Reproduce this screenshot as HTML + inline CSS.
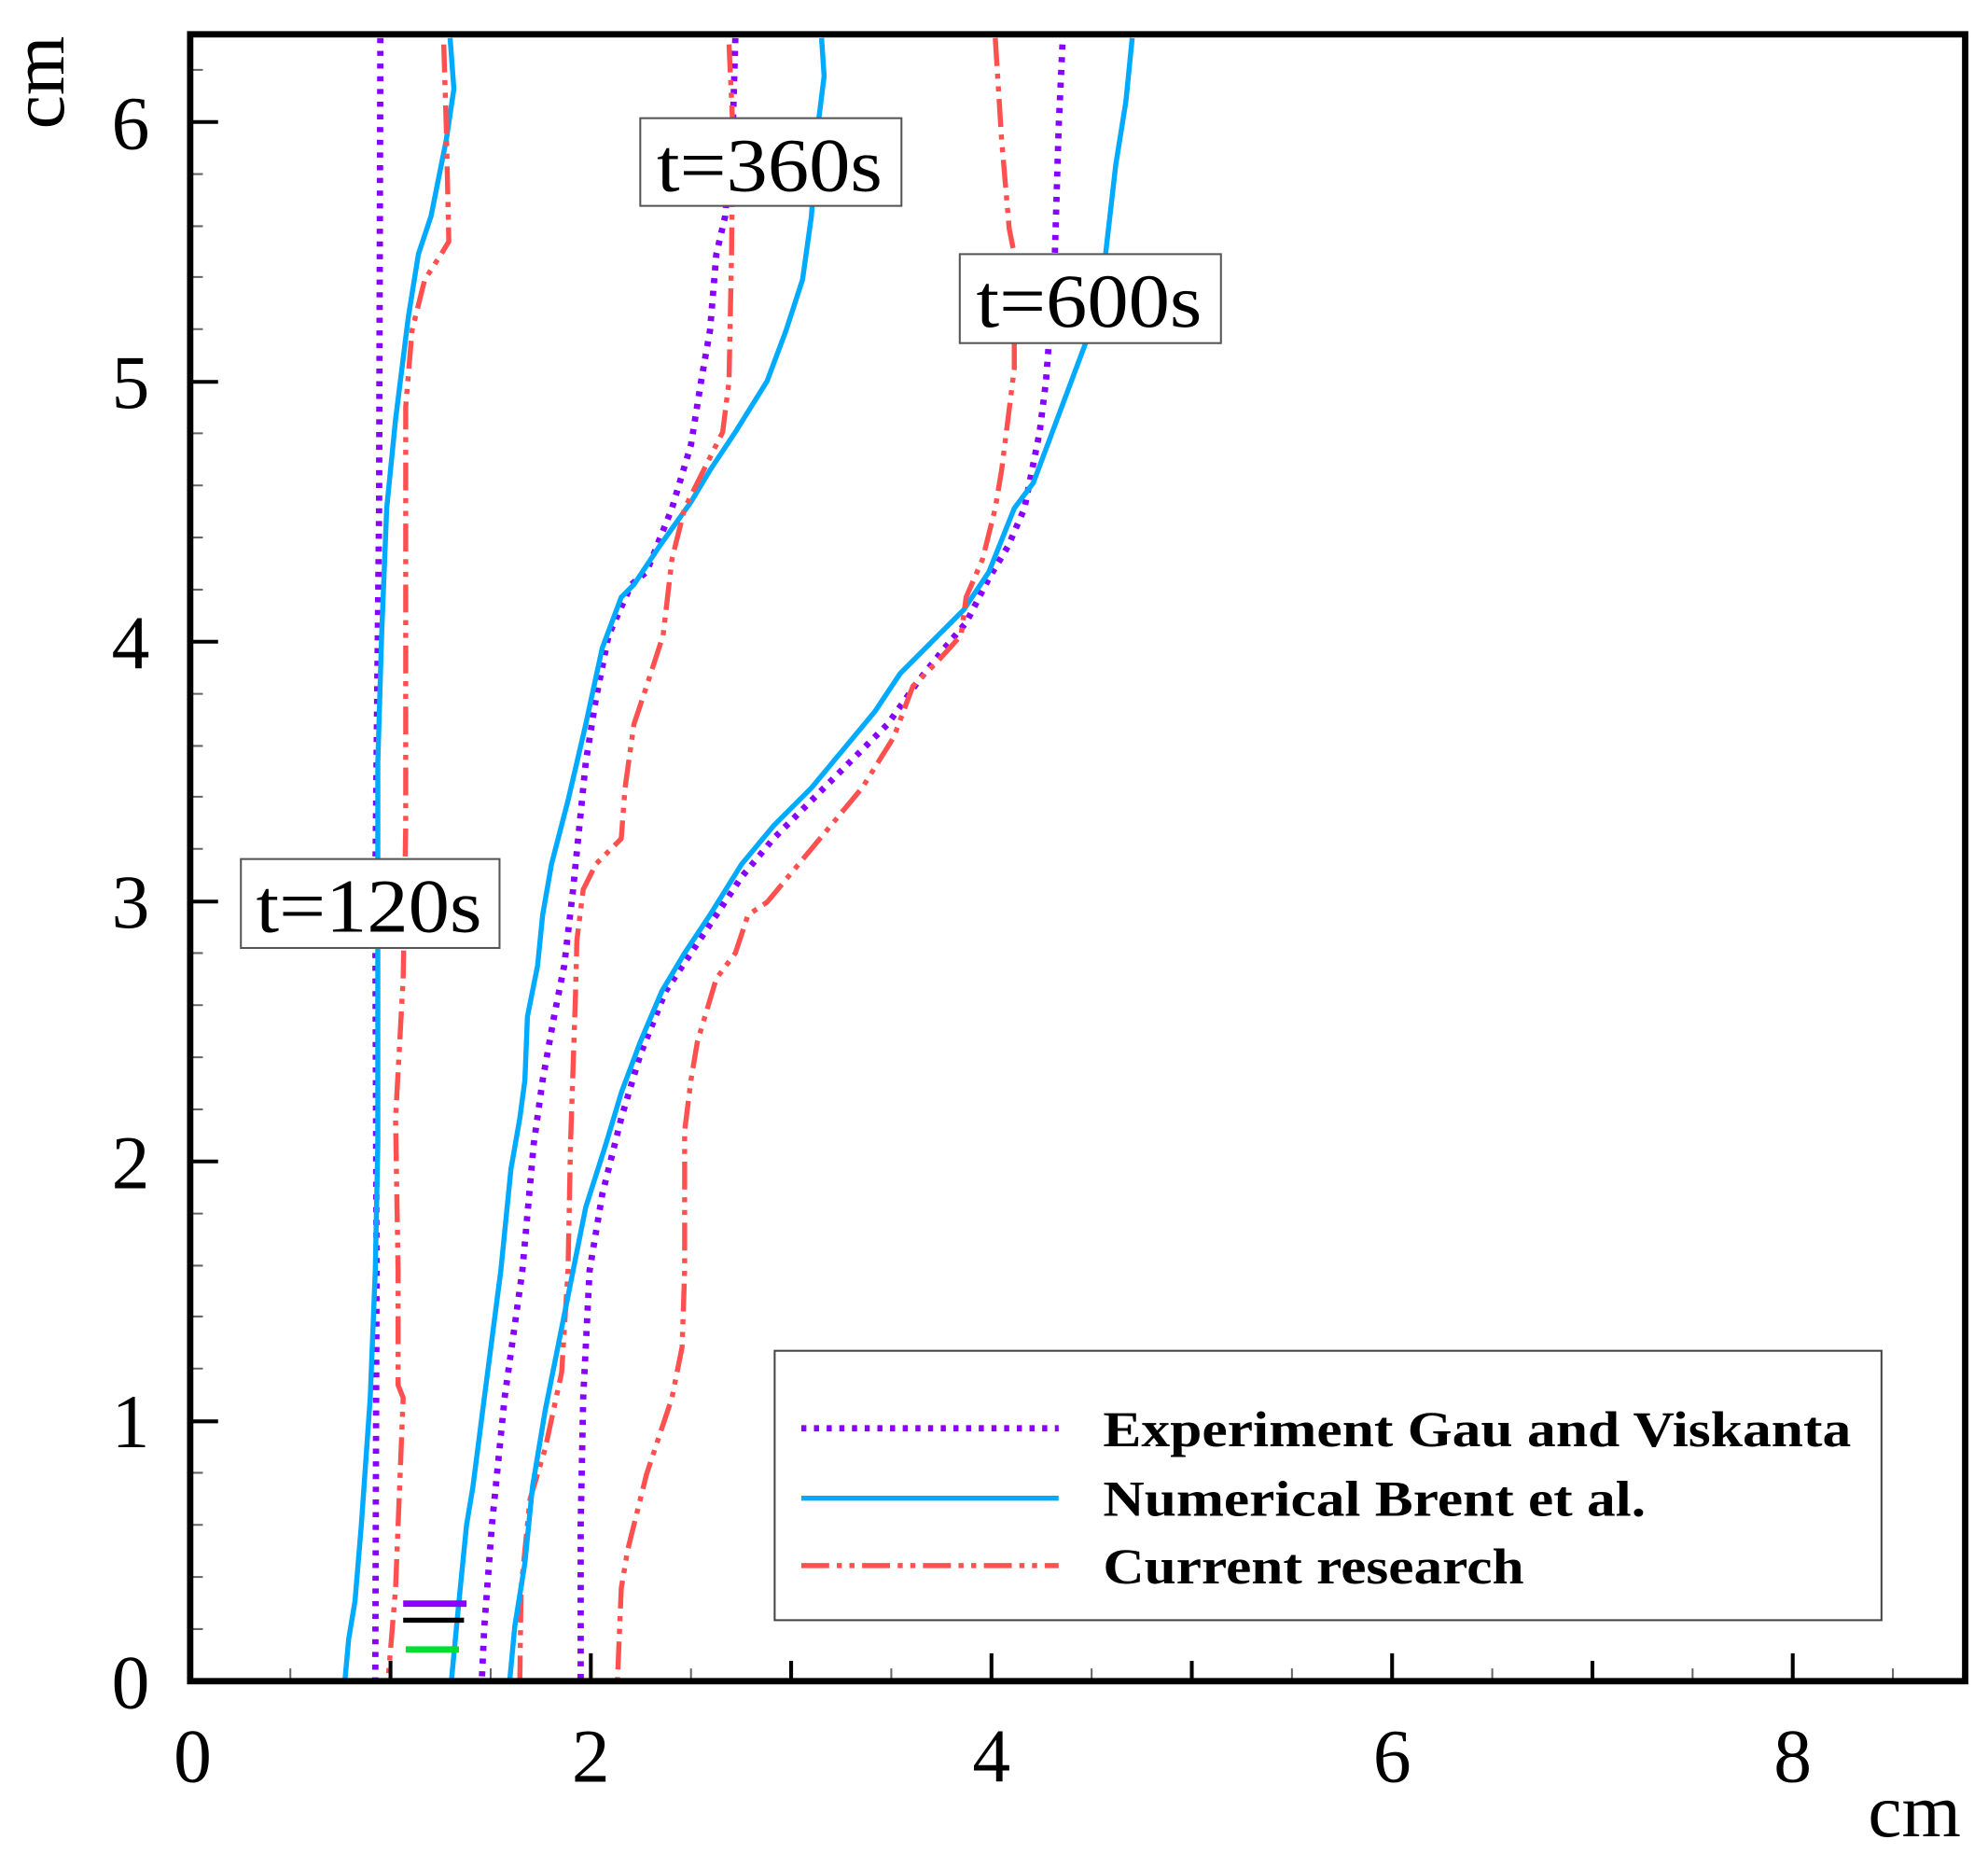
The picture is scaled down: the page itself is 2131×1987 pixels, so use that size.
<!DOCTYPE html>
<html><head><meta charset="utf-8"><style>
html,body{margin:0;padding:0;background:#fff;}
svg{display:block;}
</style></head><body>
<svg width="2131" height="1987" viewBox="0 0 1568 1459" preserveAspectRatio="none" xmlns="http://www.w3.org/2000/svg">
<rect width="1568" height="1459" fill="#fff"/>
<g fill="none" stroke-linejoin="round" stroke-linecap="butt">
<!-- t=120 -->
<polyline stroke="#8800ff" stroke-width="5" stroke-dasharray="4,6" points="300,30 299,400 296,700 297,1000 296,1323"/>
<polyline stroke="#00aaff" stroke-width="4" points="355,30 358,70 352,110 340,170 330,200 322,250 312,330 305,400 301,500 298,600 298,700 298,900 296,1000 292,1100 285,1200 280,1260 275,1290 272,1323"/>
<polyline stroke="#ff5050" stroke-width="4" stroke-dasharray="22,6,4,6,4,6" points="350,35 352,100 354,190 348,200 335,220 325,260 320,320 320,500 320,650 318,770 312,880 314,1000 314,1090 318,1100 312,1250 306,1323"/>
<!-- t=360 -->
<polyline stroke="#8800ff" stroke-width="5" stroke-dasharray="4,6" points="580,30 578,100 572,170 565,200 560,260 553,300 545,350 530,400 510,450 498,460 480,500 470,550 462,600 452,700 445,760 437,800 428,850 421,900 412,1000 398,1100 388,1200 382,1280 380,1323"/>
<polyline stroke="#00aaff" stroke-width="4" points="648,30 650,60 645,100 640,170 633,220 620,260 605,300 580,340 560,370 545,395 520,430 500,460 490,470 475,510 462,570 448,630 435,680 428,720 424,760 416,800 414,850 410,880 403,920 395,1000 382,1100 373,1170 368,1200 362,1260 356,1323"/>
<polyline stroke="#ff5050" stroke-width="4" stroke-dasharray="22,6,4,6,4,6" points="575,35 578,100 577,200 575,300 570,340 555,370 540,400 530,440 523,500 510,540 500,570 493,620 490,660 470,680 460,700 455,740 454,780 450,900 448,1000 443,1080 430,1140 418,1180 411,1250 410,1323"/>
<!-- t=600 -->
<polyline stroke="#8800ff" stroke-width="5" stroke-dasharray="4,6" points="838,35 835,100 832,200 828,260 825,300 820,340 808,400 795,430 780,455 762,490 745,510 725,535 700,570 670,600 640,630 610,660 585,690 565,720 545,750 525,780 505,830 490,880 475,940 465,1000 460,1100 458,1200 458,1323"/>
<polyline stroke="#00aaff" stroke-width="4" points="893,30 888,80 880,130 872,200 860,260 845,300 830,340 815,380 800,400 780,450 760,480 745,495 730,510 710,530 690,560 665,590 640,620 610,650 585,680 560,720 540,750 522,780 505,820 490,860 478,900 462,950 452,1000 440,1060 430,1110 420,1170 414,1230 406,1280 402,1323"/>
<polyline stroke="#ff5050" stroke-width="4" stroke-dasharray="22,6,4,6,4,6" points="785,30 790,110 796,180 800,200 800,290 795,330 790,370 785,400 775,440 762,470 758,500 740,520 720,540 705,580 680,620 655,650 630,680 605,710 590,720 580,750 565,770 550,820 545,850 540,890 540,1000 538,1060 530,1100 510,1160 495,1220 490,1250 487,1323"/>
</g>
<!-- small marks -->
<line x1="318" y1="1262" x2="368" y2="1262" stroke="#8800ff" stroke-width="5"/>
<line x1="318" y1="1275" x2="366" y2="1275" stroke="#000" stroke-width="4"/>
<line x1="320" y1="1298" x2="362" y2="1298" stroke="#00dd33" stroke-width="5"/>
<!-- ticks -->
<g stroke="#000" stroke-width="3">
<path d="M150,1323h22M150,1118.5h22M150,914h22M150,709.5h22M150,505h22M150,300.5h22M150,96h22"/>
<path d="M466,1323v-22M782,1323v-22M1098,1323v-22M1414,1323v-22M308,1323v-16M624,1323v-16M940,1323v-16M1256,1323v-16"/>
</g>
<g stroke="#666" stroke-width="1.5">
<path d="M150,1282h10M150,1241h10M150,1200h10M150,1159h10M150,1077h10M150,1036h10M150,996h10M150,955h10M150,873h10M150,832h10M150,791h10M150,750h10M150,668h10M150,627h10M150,587h10M150,546h10M150,464h10M150,423h10M150,382h10M150,341h10M150,259h10M150,218h10M150,178h10M150,137h10M150,55h10"/>
<path d="M229,1323v-10M387,1323v-10M545,1323v-10M703,1323v-10M861,1323v-10M1019,1323v-10M1177,1323v-10M1335,1323v-10M1493,1323v-10"/>
</g>
<rect x="150" y="27" width="1400" height="1296" fill="none" stroke="#000" stroke-width="5"/>
<!-- tick labels -->
<g font-family="Liberation Serif, serif" font-size="60" fill="#000" text-anchor="end">
<text x="118" y="1344">0</text><text x="118" y="1139">1</text><text x="118" y="935">2</text><text x="118" y="730">3</text><text x="118" y="526">4</text><text x="118" y="321">5</text><text x="118" y="117">6</text>
</g>
<g font-family="Liberation Serif, serif" font-size="60" fill="#000" text-anchor="middle">
<text x="152" y="1402">0</text><text x="466" y="1402">2</text><text x="782" y="1402">4</text><text x="1098" y="1402">6</text><text x="1414" y="1402">8</text>
<text x="1510" y="1445">cm</text>
<text transform="translate(50,65) rotate(-90)">cm</text>
</g>
<!-- labels -->
<g font-family="Liberation Serif, serif" font-size="60" fill="#000">
<rect x="505" y="93" width="206" height="69" fill="#fff" stroke="#555" stroke-width="1.5"/>
<text x="518" y="150" textLength="178" lengthAdjust="spacingAndGlyphs">t=360s</text>
<rect x="757" y="200" width="206" height="70" fill="#fff" stroke="#555" stroke-width="1.5"/>
<text x="770" y="257" textLength="178" lengthAdjust="spacingAndGlyphs">t=600s</text>
<rect x="190" y="676" width="204" height="70" fill="#fff" stroke="#555" stroke-width="1.5"/>
<text x="202" y="733" textLength="178" lengthAdjust="spacingAndGlyphs">t=120s</text>
</g>
<!-- legend -->
<rect x="611" y="1063" width="873" height="212" fill="#fff" stroke="#444" stroke-width="1.5"/>
<line x1="632" y1="1124" x2="835" y2="1124" stroke="#8800ff" stroke-width="5" stroke-dasharray="4,6"/>
<line x1="632" y1="1179" x2="835" y2="1179" stroke="#00aaff" stroke-width="4"/>
<line x1="632" y1="1232" x2="835" y2="1232" stroke="#ff5050" stroke-width="4" stroke-dasharray="22,6,4,6,4,6"/>
<g font-family="Liberation Serif, serif" font-size="40" font-weight="bold" fill="#000">
<text x="870" y="1138" textLength="590" lengthAdjust="spacingAndGlyphs">Experiment Gau and Viskanta</text>
<text x="870" y="1193" textLength="428" lengthAdjust="spacingAndGlyphs">Numerical Brent et al.</text>
<text x="870" y="1246" textLength="332" lengthAdjust="spacingAndGlyphs">Current research</text>
</g>
</svg>
</body></html>
